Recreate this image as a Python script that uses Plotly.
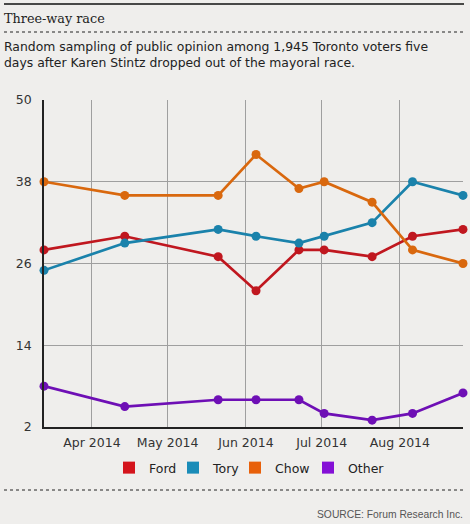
import plotly.graph_objects as go

dates = ["2014-03-13", "2014-04-14", "2014-05-21", "2014-06-05", "2014-06-22",
         "2014-07-02", "2014-07-21", "2014-08-06", "2014-08-26"]
ford = [28, 30, 27, 22, 28, 28, 27, 30, 31]
tory = [25, 29, 31, 30, 29, 30, 32, 38, 36]
chow = [38, 36, 36, 42, 37, 38, 35, 28, 26]
other = [8, 5, 6, 6, 6, 4, 3, 4, 7]
y_ticks = [2, 14, 26, 38, 50]

series = [
    ("Ford", ford, "#c0171f", "#d4141c"),
    ("Tory", tory, "#1a82ab", "#1a8cb8"),
    ("Chow", chow, "#d9680e", "#e8600a"),
    ("Other", other, "#6e0fb5", "#8410d6"),
]
legend_px = [123, 187, 249, 322]  # left of each legend square, in pixels

BG = "#efeeec"
W, H = 470, 524
L, R, T, B = 44, 7, 100, 97
PW, PH = W - L - R, H - T - B

def px(x):
    return (x - L) / PW

def py(y):
    return (H - B - y) / PH

fig = go.Figure()
for name, vals, lc, mc in series:
    fig.add_trace(go.Scatter(
        x=dates, y=vals, mode="lines+markers", name=name,
        line=dict(color=lc, width=2.7),
        marker=dict(color=lc, size=9),
        showlegend=False, cliponaxis=False,
    ))

legend_layout = {}
for i, (name, vals, lc, mc) in enumerate(series):
    key = "legend" if i == 0 else f"legend{i+1}"
    fig.add_trace(go.Scatter(
        x=[None], y=[None], mode="markers", name=name,
        marker=dict(color=mc, size=12, symbol="square"),
        showlegend=True, legend=key,
    ))
    legend_layout[key] = dict(
        orientation="h", x=px(legend_px[i] - 14), xanchor="left",
        y=py(468), yanchor="middle",
        font=dict(family="DejaVu Sans", size=12.5, color="#222222"),
        bgcolor="rgba(0,0,0,0)", itemwidth=30,
    )

fig.update_layout(
    width=W, height=H,
    margin=dict(l=L, r=R, t=T, b=B),
    paper_bgcolor=BG, plot_bgcolor=BG,
    font=dict(family="DejaVu Sans", size=12.5, color="#333333"),
    xaxis=dict(
        range=[dates[0], dates[-1]],
        dtick="M1", tick0="2014-04-01", tickformat="%b %Y",
        showgrid=True, gridcolor="#9f9f9f", gridwidth=1,
        showline=True, linecolor="#222222", linewidth=1.5,
        ticks="", zeroline=False, ticklabelstandoff=3,
        tickfont=dict(family="DejaVu Sans", size=12.5, color="#333333"),
    ),
    yaxis=dict(
        range=[2, 50], tickvals=y_ticks,
        showgrid=True, gridcolor="#9f9f9f", gridwidth=1,
        showline=True, linecolor="#222222", linewidth=1.5,
        ticks="", zeroline=False, ticklabelstandoff=8,
        tickfont=dict(family="DejaVu Sans", size=12.5, color="#333333"),
    ),
    shapes=[
        dict(type="line", xref="paper", yref="paper", x0=px(4), x1=px(464),
             y0=py(4), y1=py(4), line=dict(color="#111111", width=1.5)),
        dict(type="line", xref="paper", yref="paper", x0=px(4), x1=px(464),
             y0=py(32), y1=py(32), line=dict(color="#222222", width=1, dash="dot")),
        dict(type="line", xref="paper", yref="paper", x0=px(4), x1=px(464),
             y0=py(490), y1=py(490), line=dict(color="#222222", width=1, dash="dot")),
    ],
    annotations=[
        dict(text="Three-way race", xref="paper", yref="paper", x=px(2), y=py(19),
             xanchor="left", yanchor="middle", showarrow=False,
             font=dict(family="DejaVu Serif", size=12.8, color="#222222")),
        dict(text="Random sampling of public opinion among 1,945 Toronto voters five<br>"
                  "days after Karen Stintz dropped out of the mayoral race.",
             xref="paper", yref="paper", x=px(2), y=py(54),
             xanchor="left", yanchor="middle", align="left", showarrow=False,
             font=dict(family="DejaVu Sans", size=12.4, color="#222222")),
        dict(text="SOURCE: Forum Research Inc.", xref="paper", yref="paper",
             x=px(465), y=py(514), xanchor="right", yanchor="middle", showarrow=False,
             font=dict(family="Liberation Sans", size=10.3, color="#555555")),
    ],
    **legend_layout,
)

fig.write_html("out.html", config={"displayModeBar": False},
               post_script="document.body.style.margin='0px';")
